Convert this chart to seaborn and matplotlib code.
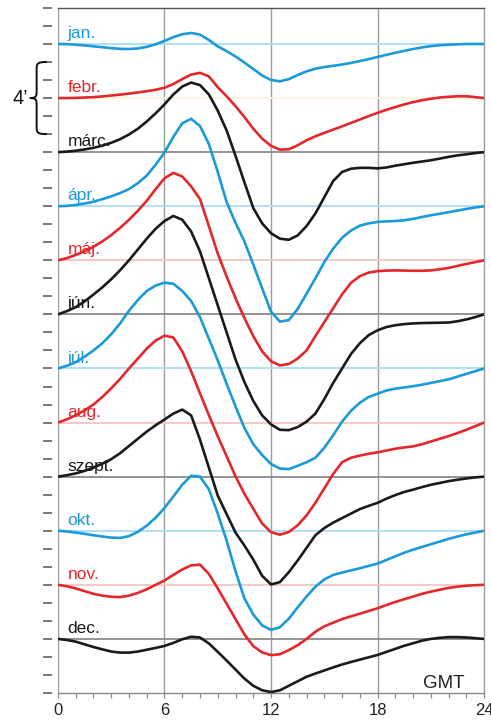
import matplotlib
matplotlib.use("Agg")
import matplotlib.pyplot as plt
import matplotlib.transforms as mtransforms
from matplotlib.path import Path
from matplotlib.patches import PathPatch
import seaborn as sns
import numpy as np
import pandas as pd

# half-hourly sample grid, GMT hours
hours = np.arange(0, 24.5, 0.5)

months = ['jan.', 'febr.', 'márc.', 'ápr.', 'máj.', 'jún.',
          'júl.', 'aug.', 'szept.', 'okt.', 'nov.', 'dec.']

# declination deviation in arc minutes
jan = [0, -0.01, -0.04, -0.08, -0.13, -0.18, -0.23, -0.27, -0.28, -0.25, -0.16, -0.02,
       0.17, 0.38, 0.54, 0.61, 0.52, 0.22, -0.13, -0.4, -0.69, -1.03, -1.39, -1.75,
       -2.0, -2.07, -1.95, -1.72, -1.52, -1.37, -1.28, -1.21, -1.14, -1.05, -0.95, -0.84,
       -0.72, -0.6, -0.49, -0.38, -0.28, -0.19, -0.12, -0.07, -0.04, -0.02, 0, 0, 0]
febr = [0, 0, 0.01, 0.03, 0.05, 0.09, 0.14, 0.19, 0.25, 0.31, 0.38, 0.46,
        0.57, 0.78, 1.05, 1.3, 1.4, 1.2, 0.6, 0.1, -0.45, -1.05, -1.7, -2.25,
        -2.65, -2.86, -2.84, -2.62, -2.34, -2.12, -1.93, -1.75, -1.57, -1.38, -1.19, -1.0,
        -0.82, -0.65, -0.5, -0.35, -0.23, -0.12, -0.04, 0.03, 0.07, 0.1, 0.1, 0.05, 0]
marc = [0, 0.03, 0.08, 0.15, 0.24, 0.36, 0.52, 0.72, 0.98, 1.3, 1.7, 2.15,
        2.65, 3.2, 3.64, 3.86, 3.72, 3.2, 2.3, 1.2, -0.2, -1.67, -3.1, -3.95,
        -4.5, -4.8, -4.86, -4.62, -4.1, -3.4, -2.5, -1.6, -1.1, -0.92, -0.87, -0.87,
        -0.9, -0.85, -0.75, -0.67, -0.59, -0.52, -0.45, -0.36, -0.26, -0.18, -0.12, -0.05, 0]
apr = [0, 0.02, 0.07, 0.15, 0.25, 0.39, 0.55, 0.73, 0.95, 1.28, 1.7, 2.3,
       2.98, 3.85, 4.6, 4.85, 4.45, 3.45, 1.9, 0.23, -0.92, -1.95, -3.23, -4.55,
       -5.85, -6.4, -6.32, -5.7, -4.85, -4.0, -3.1, -2.35, -1.75, -1.35, -1.08, -0.95,
       -0.87, -0.84, -0.82, -0.78, -0.7, -0.6, -0.5, -0.42, -0.33, -0.24, -0.15, -0.07, 0]
maj = [0, 0.12, 0.3, 0.5, 0.75, 1.05, 1.4, 1.8, 2.25, 2.75, 3.3, 3.95,
       4.55, 4.85, 4.65, 4.1, 3.4, 1.9, 0.37, -0.9, -2.1, -3.2, -4.2, -5.05,
       -5.6, -5.83, -5.75, -5.45, -5.0, -4.2, -3.43, -2.66, -1.89, -1.25, -0.88, -0.68,
       -0.6, -0.57, -0.56, -0.57, -0.58, -0.58, -0.56, -0.5, -0.42, -0.31, -0.2, -0.1, 0]
jun = [0, 0.18, 0.4, 0.72, 1.1, 1.5, 1.95, 2.45, 3.0, 3.6, 4.2, 4.75,
       5.18, 5.46, 5.25, 4.6, 3.5, 2.0, 0.5, -1.0, -2.5, -3.75, -4.8, -5.6,
       -6.1, -6.4, -6.42, -6.25, -5.95, -5.5, -4.7, -3.8, -3.0, -2.2, -1.6, -1.15,
       -0.88, -0.7, -0.6, -0.54, -0.5, -0.48, -0.47, -0.46, -0.45, -0.38, -0.28, -0.15, 0]
jul = [0, 0.15, 0.35, 0.65, 1.0, 1.4, 1.9, 2.5, 3.2, 3.8, 4.3, 4.6,
       4.76, 4.7, 4.3, 3.75, 2.85, 1.65, 0.45, -0.85, -2.1, -3.3, -4.2, -4.8,
       -5.3, -5.55, -5.58, -5.4, -5.2, -4.95, -4.4, -3.7, -2.95, -2.35, -1.9, -1.58,
       -1.4, -1.22, -1.12, -1.05, -0.98, -0.9, -0.8, -0.7, -0.6, -0.45, -0.3, -0.15, 0]
aug = [0, 0.18, 0.4, 0.68, 1.0, 1.42, 1.9, 2.42, 3.0, 3.55, 4.1, 4.55,
       4.82, 4.72, 3.95, 2.85, 1.62, 0.41, -0.76, -1.87, -2.98, -3.95, -4.78, -5.6,
       -6.08, -6.22, -6.07, -5.7, -5.15, -4.45, -3.65, -2.85, -2.2, -1.95, -1.83, -1.73,
       -1.65, -1.55, -1.45, -1.38, -1.32, -1.2, -1.05, -0.9, -0.75, -0.58, -0.4, -0.2, 0]
szept = [0, 0.08, 0.18, 0.32, 0.5, 0.72, 0.97, 1.3, 1.7, 2.1, 2.5, 2.85,
         3.17, 3.5, 3.72, 3.4, 2.05, 0.5, -1.05, -2.08, -3.1, -3.82, -4.6, -5.5,
         -5.98, -5.85, -5.3, -4.65, -3.95, -3.25, -2.85, -2.55, -2.3, -2.05, -1.8, -1.62,
         -1.45, -1.22, -1.02, -0.85, -0.72, -0.58, -0.45, -0.35, -0.25, -0.17, -0.1, -0.04, 0]
okt = [0, -0.04, -0.1, -0.17, -0.25, -0.32, -0.38, -0.4, -0.3, -0.06, 0.28, 0.72,
       1.26, 1.9, 2.55, 3.05, 3.0, 2.3, 0.95, -0.55, -2.25, -3.75, -4.65, -5.25,
       -5.5, -5.35, -4.88, -4.25, -3.65, -3.1, -2.7, -2.45, -2.32, -2.2, -2.08, -1.95,
       -1.82, -1.62, -1.42, -1.22, -1.05, -0.9, -0.75, -0.6, -0.45, -0.32, -0.2, -0.1, 0]
nov = [0, -0.08, -0.2, -0.35, -0.5, -0.6, -0.66, -0.68, -0.6, -0.45, -0.25, 0.0,
       0.24, 0.55, 0.85, 1.08, 1.12, 0.6, -0.2, -1.05, -1.9, -2.75, -3.4, -3.75,
       -3.9, -3.85, -3.62, -3.35, -3.0, -2.6, -2.3, -2.1, -1.9, -1.75, -1.6, -1.45,
       -1.3, -1.12, -0.95, -0.8, -0.65, -0.5, -0.38, -0.27, -0.17, -0.1, -0.05, -0.02, 0]
dec = [0, -0.06, -0.15, -0.3, -0.45, -0.58, -0.7, -0.76, -0.76, -0.7, -0.6, -0.5,
       -0.39, -0.22, -0.02, 0.12, 0.08, -0.25, -0.72, -1.2, -1.7, -2.2, -2.6, -2.85,
       -2.95, -2.85, -2.6, -2.35, -2.1, -1.92, -1.75, -1.58, -1.42, -1.28, -1.15, -1.02,
       -0.89, -0.72, -0.55, -0.38, -0.24, -0.1, 0.0, 0.06, 0.1, 0.1, 0.08, 0.04, 0]

series = [jan, febr, marc, apr, maj, jun, jul, aug, szept, okt, nov, dec]

BLUE, RED, BLACK = '#1a9ad8', '#e4272b', '#1a1a1a'
line_colors = [BLUE, RED, BLACK] * 4
base_colors = ['#a9dcf4', '#fbf6d8', '#8a8a8a', '#a9dcf4', '#f8c4c4', '#8a8a8a',
               '#a9dcf4', '#f8c4c4', '#8a8a8a', '#a9dcf4', '#f8c4c4', '#8a8a8a']
step = 3  # arc minutes between stacked baselines

rows = []
for i, (m, vals) in enumerate(zip(months, series)):
    for h, v in zip(hours, vals):
        rows.append({'month': m, 'GMT': h, 'value': v - step * i})
df = pd.DataFrame(rows)

sns.set_theme(style='ticks')
plt.rcParams['font.family'] = ['Liberation Sans', 'DejaVu Sans']

fig = plt.figure(figsize=(4.91, 7.2), dpi=100)
ax = fig.add_axes([0.118, 0.0375, 0.868, 0.9515])

for x in [6, 12, 18]:
    ax.axvline(x, color='#9c9c9c', lw=1.0, zorder=0.5)
ax.axvline(0, color='#9c9c9c', lw=1.0, zorder=0.5)

for i, m in enumerate(months):
    off = -step * i
    ax.axhline(off, color=base_colors[i], lw=1.3, zorder=1)
    ax.text(0.55, off + 0.33, m, color=line_colors[i], fontsize=12.5,
            ha='left', va='baseline', zorder=2)

sns.lineplot(data=df, x='GMT', y='value', hue='month', hue_order=months,
             palette=dict(zip(months, line_colors)), legend=False, sort=False,
             lw=1.9, ax=ax, zorder=3, solid_joinstyle='round', solid_capstyle='round')

ax.set_xlim(0, 24)
ax.set_ylim(-36, 2)
ax.set_xlabel('')
ax.set_ylabel('')

ax.set_xticks([0, 6, 12, 18, 24])
ax.set_xticks(range(25), minor=True)
ax.tick_params(axis='x', which='both', length=3.5, width=0.9, color='#8a8a8a',
               direction='out', labelsize=12, pad=3.5, labelcolor='#222222')
ax.set_yticks(range(-36, 3))
ax.set_yticklabels([])
ax.tick_params(axis='y', length=6.5, width=1.1, color='#555555', direction='out')

ax.spines['left'].set_position(('outward', 4))
ax.spines['left'].set_visible(False)
ax.spines['top'].set_color('#5a5050')
ax.spines['right'].set_color('#9c9c9c')
ax.spines['bottom'].set_color('#8a8a8a')
for s in ['top', 'right', 'bottom']:
    ax.spines[s].set_linewidth(1.0)

ax.text(21.7, -35.45, 'GMT', ha='center', va='center', fontsize=13.5, color='#222222')

# brace marking 4 arc minutes
trans = mtransforms.blended_transform_factory(ax.transAxes, ax.transData)
xe, xs, xt = -0.026, -0.050, -0.066
verts = [(xe, -1), (xs, -1), (xs, -1.1), (xs, -1.45),
         (xs, -2.55),
         (xs, -2.9), (xs, -3), (xt, -3),
         (xs, -3), (xs, -3.1), (xs, -3.45),
         (xs, -4.55),
         (xs, -4.9), (xs, -5), (xe, -5)]
codes = [Path.MOVETO, Path.CURVE4, Path.CURVE4, Path.CURVE4,
         Path.LINETO,
         Path.CURVE4, Path.CURVE4, Path.CURVE4,
         Path.CURVE4, Path.CURVE4, Path.CURVE4,
         Path.LINETO,
         Path.CURVE4, Path.CURVE4, Path.CURVE4]
ax.add_patch(PathPatch(Path(verts, codes), transform=trans, fill=False,
                       lw=1.4, color='#111111', clip_on=False))
ax.text(-0.088, -3, '4’', transform=trans, ha='center', va='center',
        fontsize=14.5, color='#111111')

fig.savefig('out.png', dpi=100)
